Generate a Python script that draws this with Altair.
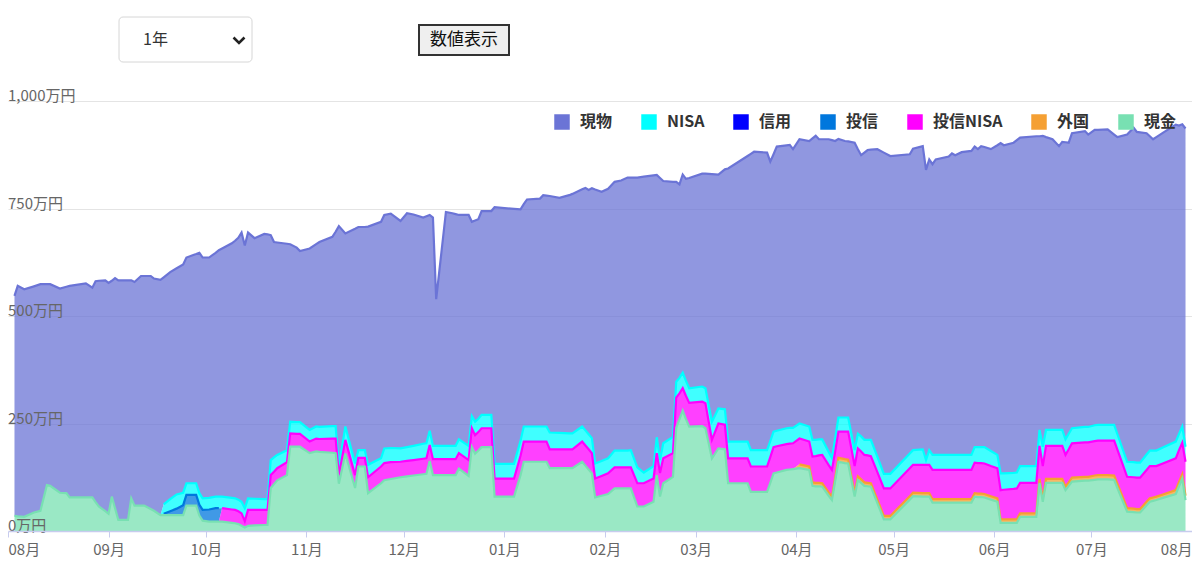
import altair as alt
import pandas as pd

FONT = "Noto Sans CJK JP"

# ---- data (万円) ----
dates = [
    "2020-08-03", "2020-08-04", "2020-08-06", "2020-08-09", "2020-08-11", "2020-08-13", "2020-08-14", "2020-08-17",
    "2020-08-19", "2020-08-20", "2020-08-25", "2020-08-27", "2020-08-28", "2020-08-29", "2020-08-31",
    "2020-09-01", "2020-09-02", "2020-09-03", "2020-09-04", "2020-09-07", "2020-09-08", "2020-09-09", "2020-09-11",
    "2020-09-12", "2020-09-14", "2020-09-15", "2020-09-17", "2020-09-18", "2020-09-20", "2020-09-22", "2020-09-24",
    "2020-09-25", "2020-09-28", "2020-09-29", "2020-09-30",
    "2020-10-02", "2020-10-04", "2020-10-05", "2020-10-06", "2020-10-09", "2020-10-10", "2020-10-11", "2020-10-12",
    "2020-10-13", "2020-10-14", "2020-10-16", "2020-10-19", "2020-10-20", "2020-10-21", "2020-10-22", "2020-10-23",
    "2020-10-26", "2020-10-27", "2020-10-29", "2020-10-30",
    "2020-11-02", "2020-11-04", "2020-11-05", "2020-11-09", "2020-11-10", "2020-11-11", "2020-11-13", "2020-11-16",
    "2020-11-17", "2020-11-19", "2020-11-20", "2020-11-24", "2020-11-25", "2020-11-27", "2020-11-30",
    "2020-12-02", "2020-12-04", "2020-12-07", "2020-12-08", "2020-12-09", "2020-12-10", "2020-12-11", "2020-12-14",
    "2020-12-16", "2020-12-17", "2020-12-18", "2020-12-21", "2020-12-22", "2020-12-23", "2020-12-24", "2020-12-25",
    "2020-12-28", "2020-12-29",
    "2021-01-04", "2021-01-06", "2021-01-07", "2021-01-08", "2021-01-12", "2021-01-13", "2021-01-14", "2021-01-15",
    "2021-01-18", "2021-01-21", "2021-01-22", "2021-01-25", "2021-01-26", "2021-01-27", "2021-01-28", "2021-01-29",
    "2021-01-31",
    "2021-02-02", "2021-02-04", "2021-02-06", "2021-02-08", "2021-02-09", "2021-02-11", "2021-02-13", "2021-02-16",
    "2021-02-17", "2021-02-18", "2021-02-19", "2021-02-22", "2021-02-23", "2021-02-24", "2021-02-25", "2021-02-26",
    "2021-02-27",
    "2021-03-03", "2021-03-04", "2021-03-06", "2021-03-08", "2021-03-10", "2021-03-11", "2021-03-17", "2021-03-18",
    "2021-03-19", "2021-03-23", "2021-03-24", "2021-03-25", "2021-03-26", "2021-03-29", "2021-03-30", "2021-03-31",
    "2021-04-02", "2021-04-05", "2021-04-06", "2021-04-07", "2021-04-08", "2021-04-09", "2021-04-11", "2021-04-12",
    "2021-04-13", "2021-04-14", "2021-04-16", "2021-04-17", "2021-04-19", "2021-04-20", "2021-04-21", "2021-04-22",
    "2021-04-23", "2021-04-24", "2021-04-26", "2021-04-28", "2021-04-30",
    "2021-05-06", "2021-05-07", "2021-05-10", "2021-05-11", "2021-05-12", "2021-05-13", "2021-05-14", "2021-05-18",
    "2021-05-19", "2021-05-20", "2021-05-22", "2021-05-25", "2021-05-26", "2021-05-27", "2021-05-28", "2021-05-29",
    "2021-05-31",
    "2021-06-02", "2021-06-03", "2021-06-04", "2021-06-07", "2021-06-08", "2021-06-09", "2021-06-14", "2021-06-15",
    "2021-06-16", "2021-06-17", "2021-06-19", "2021-06-21", "2021-06-22", "2021-06-23", "2021-06-24", "2021-06-25",
    "2021-06-29", "2021-06-30",
    "2021-07-02", "2021-07-03", "2021-07-06", "2021-07-08", "2021-07-09", "2021-07-12", "2021-07-14", "2021-07-15",
    "2021-07-16", "2021-07-18", "2021-07-19", "2021-07-20", "2021-07-21", "2021-07-23", "2021-07-27", "2021-07-28",
    "2021-07-29", "2021-07-30",
]

genbutsu = [  # 現物
    512, 536, 529, 526, 527, 467, 469, 475, 480, 492, 498, 488, 514, 525, 537,
    537, 502, 535, 557, 557, 507, 520, 534, 534, 542, 540, 547, 528, 528, 526, 531, 525, 533, 559, 560,
    559, 567, 573, 577, 592, 599, 609, 626, 611, 618, 606, 617, 616, 523, 501, 494, 480, 413, 406, 398,
    422, 424, 430, 440, 452, 559, 449, 546, 519, 519, 554, 550, 543, 545, 529,
    544, 538, 526, 528, 502, 531, 341, 544, 541, 539, 522, 537, 452, 468, 464, 474, 474, 597,
    593, 538, 517, 528, 530, 538, 537, 550, 547, 554, 557, 552, 564, 568, 581, 637, 626,
    627, 625, 628, 635, 634, 674, 688, 676, 610, 656, 610, 593, 465, 450, 461, 470, 489,
    495, 499, 576, 544, 558, 635, 664, 689, 694, 692, 650, 645, 661, 658, 658, 648,
    661, 664, 701, 707, 698, 698, 727, 739, 692, 648, 643, 642, 715, 662, 654, 668, 674, 675, 715, 747, 739,
    696, 701, 705, 675, 676, 676, 687, 694, 701, 697, 704, 707, 699, 693, 700, 698, 702,
    720, 768, 763, 768, 773, 764, 767, 683, 723, 681, 676, 660, 670, 691, 677, 686, 688, 680,
    687, 686, 687, 675, 691, 761, 778, 769, 768, 747, 731, 724, 729, 732, 737, 717, 703, 740,
]

nisa = [  # NISA
    0, 0, 0, 0, 0, 0, 0, 0, 0, 0, 0, 0, 0, 0, 0,
    0, 0, 0, 0, 0, 0, 0, 0, 0, 0, 0, 0, 22, 28, 33, 29, 27, 27, 27, 27,
    27, 27, 27, 27, 27, 27, 27, 27, 30, 27, 26, 25, 25, 35, 33, 31, 28, 27, 27, 27,
    27, 28, 28, 29, 29, 20, 31, 27, 18, 18, 29, 19, 34, 33, 31,
    32, 33, 35, 35, 33, 31, 31, 31, 31, 31, 32, 33, 28, 31, 31, 31, 31, 34,
    34, 35, 35, 35, 35, 35, 35, 39, 38, 37, 37, 35, 35, 35, 35, 35, 35,
    35, 39, 39, 39, 40, 37, 25, 29, 37, 30, 35, 38, 37, 36, 36, 35, 34,
    35, 35, 42, 35, 36, 39, 39, 38, 38, 38, 37, 36, 36, 37, 37, 36,
    35, 35, 39, 38, 37, 36, 31, 28, 30, 33, 33, 33, 37, 34, 35, 35, 36, 38, 36, 34, 34,
    34, 34, 36, 11, 34, 35, 35, 35, 35, 35, 35, 35, 36, 37, 37, 38, 35,
    31, 39, 38, 37, 37, 39, 39, 37, 45, 37, 37, 37, 37, 36, 36, 35, 36, 36,
    37, 37, 37, 37, 36, 35, 35, 35, 35, 36, 36, 36, 36, 37, 39, 38, 38, 35,
]

toushin = [  # 投信
    0, 0, 0, 0, 0, 0, 0, 0, 0, 0, 0, 0, 0, 0, 0,
    0, 0, 0, 0, 0, 0, 0, 0, 0, 0, 0, 0, 3, 9, 15, 23, 25, 25, 25, 25,
    28, 31, 31, 0, 0, 0, 0, 0, 0, 0, 0, 0, 0, 0, 0, 0, 0, 0, 0, 0,
    0, 0, 0, 0, 0, 0, 0, 0, 0, 0, 0, 0, 0, 0, 0,
    0, 0, 0, 0, 0, 0, 0, 0, 0, 0, 0, 0, 0, 0, 0, 0, 0, 0,
    0, 0, 0, 0, 0, 0, 0, 0, 0, 0, 0, 0, 0, 0, 0, 0, 0,
    0, 0, 0, 0, 0, 0, 0, 0, 0, 0, 0, 0, 0, 0, 0, 0, 0,
    0, 0, 0, 0, 0, 0, 0, 0, 0, 0, 0, 0, 0, 0, 0, 0,
    0, 0, 0, 0, 0, 0, 0, 0, 0, 0, 0, 0, 0, 0, 0, 0, 0, 0, 0, 0, 0,
    0, 0, 0, 0, 0, 0, 0, 0, 0, 0, 0, 0, 0, 0, 0, 0, 0,
    0, 0, 0, 0, 0, 0, 0, 0, 0, 0, 0, 0, 0, 0, 0, 0, 0, 0,
    0, 0, 0, 0, 0, 0, 0, 0, 0, 0, 0, 0, 0, 0, 0, 0, 0, 0,
]

toushin_nisa = [  # 投信NISA
    0, 0, 0, 0, 0, 0, 0, 0, 0, 0, 0, 0, 0, 0, 0,
    0, 0, 0, 0, 0, 0, 0, 0, 0, 0, 0, 0, 0, 0, 0, 0, 0, 0, 0, 0,
    0, 0, 0, 31, 31, 31, 30, 29, 15, 37, 36, 35, 35, 30, 29, 28, 30, 31, 30, 30,
    27, 30, 30, 33, 34, 20, 32, 30, 20, 20, 37, 39, 40, 39, 36,
    36, 36, 36, 36, 37, 37, 37, 37, 37, 37, 36, 37, 44, 43, 43, 44, 44, 42,
    42, 45, 47, 47, 47, 47, 47, 44, 44, 44, 44, 47, 47, 47, 47, 44, 46,
    48, 49, 49, 49, 49, 54, 54, 54, 51, 55, 58, 55, 70, 60, 52, 54, 55,
    57, 58, 43, 58, 57, 58, 58, 59, 59, 59, 60, 61, 61, 60, 60, 60,
    60, 58, 60, 62, 64, 66, 63, 62, 61, 61, 64, 65, 63, 65, 65, 64, 64, 63, 64, 64, 64,
    65, 65, 66, 66, 66, 68, 68, 68, 68, 68, 68, 68, 71, 71, 71, 71, 70,
    70, 68, 69, 71, 72, 71, 71, 77, 75, 77, 77, 77, 77, 74, 77, 80, 80, 80,
    80, 80, 80, 81, 79, 73, 73, 73, 73, 74, 75, 73, 71, 72, 74, 74, 73, 79,
]

gaikoku = [  # 外国
    0, 0, 0, 0, 0, 0, 0, 0, 0, 0, 0, 0, 0, 0, 0,
    0, 0, 0, 0, 0, 0, 0, 0, 0, 0, 0, 0, 0, 0, 0, 0, 0, 0, 0, 0,
    0, 0, 0, 0, 0, 0, 0, 0, 0, 0, 0, 0, 0, 0, 0, 0, 0, 0, 0, 0,
    0, 0, 0, 0, 0, 0, 0, 0, 0, 0, 0, 0, 0, 0, 0,
    0, 0, 0, 0, 0, 0, 0, 0, 0, 0, 0, 0, 0, 0, 0, 0, 0, 0,
    0, 0, 0, 0, 0, 0, 0, 0, 0, 0, 0, 0, 0, 0, 0, 0, 0,
    0, 0, 0, 0, 0, 0, 0, 0, 0, 0, 0, 0, 0, 0, 0, 0, 0,
    0, 0, 0, 0, 0, 0, 0, 0, 0, 0, 0, 0, 0, 0, 0, 0,
    9, 8, 8, 8, 8, 8, 8, 8, 8, 9, 9, 9, 8, 8, 8, 8, 8, 8, 8, 8, 8,
    8, 8, 8, 8, 8, 8, 8, 8, 8, 8, 8, 8, 8, 8, 8, 8, 8,
    8, 8, 8, 8, 8, 8, 8, 9, 8, 9, 9, 9, 9, 8, 8, 9, 9, 9,
    10, 10, 10, 10, 10, 8, 8, 8, 8, 8, 8, 8, 8, 8, 9, 10, 10, 10,
]

genkin = [  # 現金
    35, 34, 33, 43, 47, 107, 105, 89, 88, 78, 78, 78, 67, 57, 46,
    40, 80, 53, 26, 26, 76, 59, 59, 59, 51, 47, 37, 37, 37, 37, 37, 59, 59, 36, 24,
    22, 22, 22, 22, 19, 18, 16, 12, 8, 12, 13, 14, 14, 100, 109, 118, 130, 196, 196, 196,
    181, 185, 184, 182, 181, 110, 180, 100, 150, 150, 88, 111, 118, 121, 125,
    127, 129, 132, 133, 163, 130, 130, 130, 130, 130, 145, 128, 195, 180, 187, 195, 195, 80,
    80, 130, 161, 161, 161, 161, 161, 146, 146, 146, 146, 161, 152, 143, 134, 78, 82,
    86, 99, 99, 99, 99, 57, 57, 68, 130, 80, 111, 126, 240, 260, 280, 260, 243,
    244, 239, 169, 192, 190, 111, 111, 91, 91, 91, 112, 134, 136, 142, 143, 144,
    146, 142, 105, 104, 104, 103, 82, 72, 116, 161, 158, 157, 80, 119, 112, 105, 104, 103, 65, 27, 27,
    73, 81, 80, 80, 80, 66, 66, 66, 66, 66, 66, 66, 80, 79, 79, 78, 73,
    68, 19, 19, 19, 19, 33, 33, 112, 68, 112, 112, 112, 112, 95, 105, 115, 117, 117,
    119, 120, 120, 119, 100, 45, 44, 43, 43, 60, 68, 70, 72, 77, 86, 104, 122, 72,
]

legend_names = ["現物", "NISA", "信用", "投信", "投信NISA", "外国", "現金"]
legend_colors = ["#6b74d6", "#00ffff", "#0000ff", "#0077dd", "#ff00ff", "#f5a033", "#78e0b2"]
stack_order = ["現金", "外国", "投信NISA", "投信", "信用", "NISA", "現物"]

y_ticks = [0, 250, 500, 750, 1000]
y_tick_labels = ["0万円", "250万円", "500万円", "750万円", "1,000万円"]
tick_months = [(2020, m) for m in range(8, 13)] + [(2021, m) for m in range(1, 9)]

# ---- long table ----
series_values = {
    "現物": genbutsu, "NISA": nisa, "投信": toushin,
    "投信NISA": toushin_nisa, "外国": gaikoku, "現金": genkin,
}
rows = []
for name, vals in series_values.items():
    for d, v in zip(dates, vals):
        rows.append({"date": d, "series": name, "value": v, "order": stack_order.index(name)})
df = pd.DataFrame(rows)
df["date"] = pd.to_datetime(df["date"])

x_scale = alt.Scale(domain=[alt.DateTime(year=2020, month=8, date=1),
                            alt.DateTime(year=2021, month=8, date=1)])
y_scale = alt.Scale(domain=[0, 1000], nice=False)
color_scale = alt.Scale(domain=legend_names, range=legend_colors)

base = alt.Chart(df).transform_stack(
    stack="value", groupby=["date"], as_=["y0", "y1"],
    sort=[alt.SortField("order", order="ascending")],
)

x_axis = alt.Axis(
    values=[alt.DateTime(year=y, month=m, date=1) for y, m in tick_months],
    format="%m月", title=None, grid=False, labelFlush=True, labelOverlap=False,
    domainColor="#c8ccee", tickColor="#c8ccee", tickSize=6, domainWidth=1.5,
    labelColor="#666666", labelFont=FONT, labelFontSize=15, labelPadding=5, zindex=1,
)
y_axis = alt.Axis(
    values=[250, 500, 750, 1000], title=None, labels=False, ticks=False, domain=False,
    grid=True, gridColor="#e4e4e4", gridWidth=1.2,
)

areas = base.mark_area(fillOpacity=0.75).encode(
    x=alt.X("date:T", scale=x_scale, axis=x_axis),
    y=alt.Y("y1:Q", scale=y_scale, axis=y_axis),
    y2="y0:Q",
    color=alt.Color(
        "series:N", scale=color_scale,
        legend=alt.Legend(
            title=None, orient="none", legendX=546, legendY=13, direction="horizontal",
            symbolType="square", symbolSize=240, symbolStrokeWidth=0, symbolOpacity=1,
            labelFont=FONT, labelFontSize=16, labelFontWeight="bold", labelColor="#333333",
            labelOffset=10, columnPadding=28, padding=0, labelLimit=200,
        ),
    ),
)

lines = base.transform_calculate(
    ly="datum.value > 0 ? datum.y1 : null"
).mark_line(strokeWidth=2.2, invalid="break-paths-filter-domains").encode(
    x=alt.X("date:T", scale=x_scale),
    y=alt.Y("ly:Q", scale=y_scale),
    stroke=alt.Stroke("series:N", scale=color_scale, legend=None),
)

ylab_df = pd.DataFrame({"v": y_ticks, "label": y_tick_labels})
ylabels = alt.Chart(ylab_df).mark_text(
    align="left", baseline="bottom", dy=3, font=FONT, fontSize=15, color="#666666"
).encode(x=alt.value(0), y=alt.Y("v:Q", scale=y_scale), text="label:N")

# ---- top controls (select box + button) ----
one = pd.DataFrame({"k": [0]})
select_box = alt.Chart(one).mark_rect(
    fill="white", stroke="#d6d6d6", strokeWidth=1, cornerRadius=4
).encode(x=alt.value(111), x2=alt.value(244), y=alt.value(-84), y2=alt.value(-39))
select_text = alt.Chart(one).mark_text(
    text="1年", align="left", baseline="middle", font=FONT, fontSize=16, color="#333333"
).encode(x=alt.value(135), y=alt.value(-61))
chevron = alt.Chart(one).mark_point(
    shape="M-1,-0.45L0,0.55L1,-0.45", filled=False, stroke="#222222", strokeWidth=2.6, size=120,
    opacity=1,
).encode(x=alt.value(231), y=alt.value(-61))
button = alt.Chart(one).mark_rect(
    fill="#efefef", stroke="#333333", strokeWidth=2
).encode(x=alt.value(411), x2=alt.value(501), y=alt.value(-76), y2=alt.value(-46))
button_text = alt.Chart(one).mark_text(
    text="数値表示", align="center", baseline="middle", font=FONT, fontSize=17, color="#111111"
).encode(x=alt.value(456), y=alt.value(-61))

chart = alt.layer(
    select_box, select_text, chevron, button, button_text, areas, lines, ylabels
).properties(
    width=1184, height=430,
    padding={"left": 0, "top": 93, "right": 0, "bottom": 34},
    autosize=alt.AutoSizeParams(type="none"),
).configure_view(stroke="transparent")

chart.save("out.html", embed_options={"renderer": "svg", "actions": False})
